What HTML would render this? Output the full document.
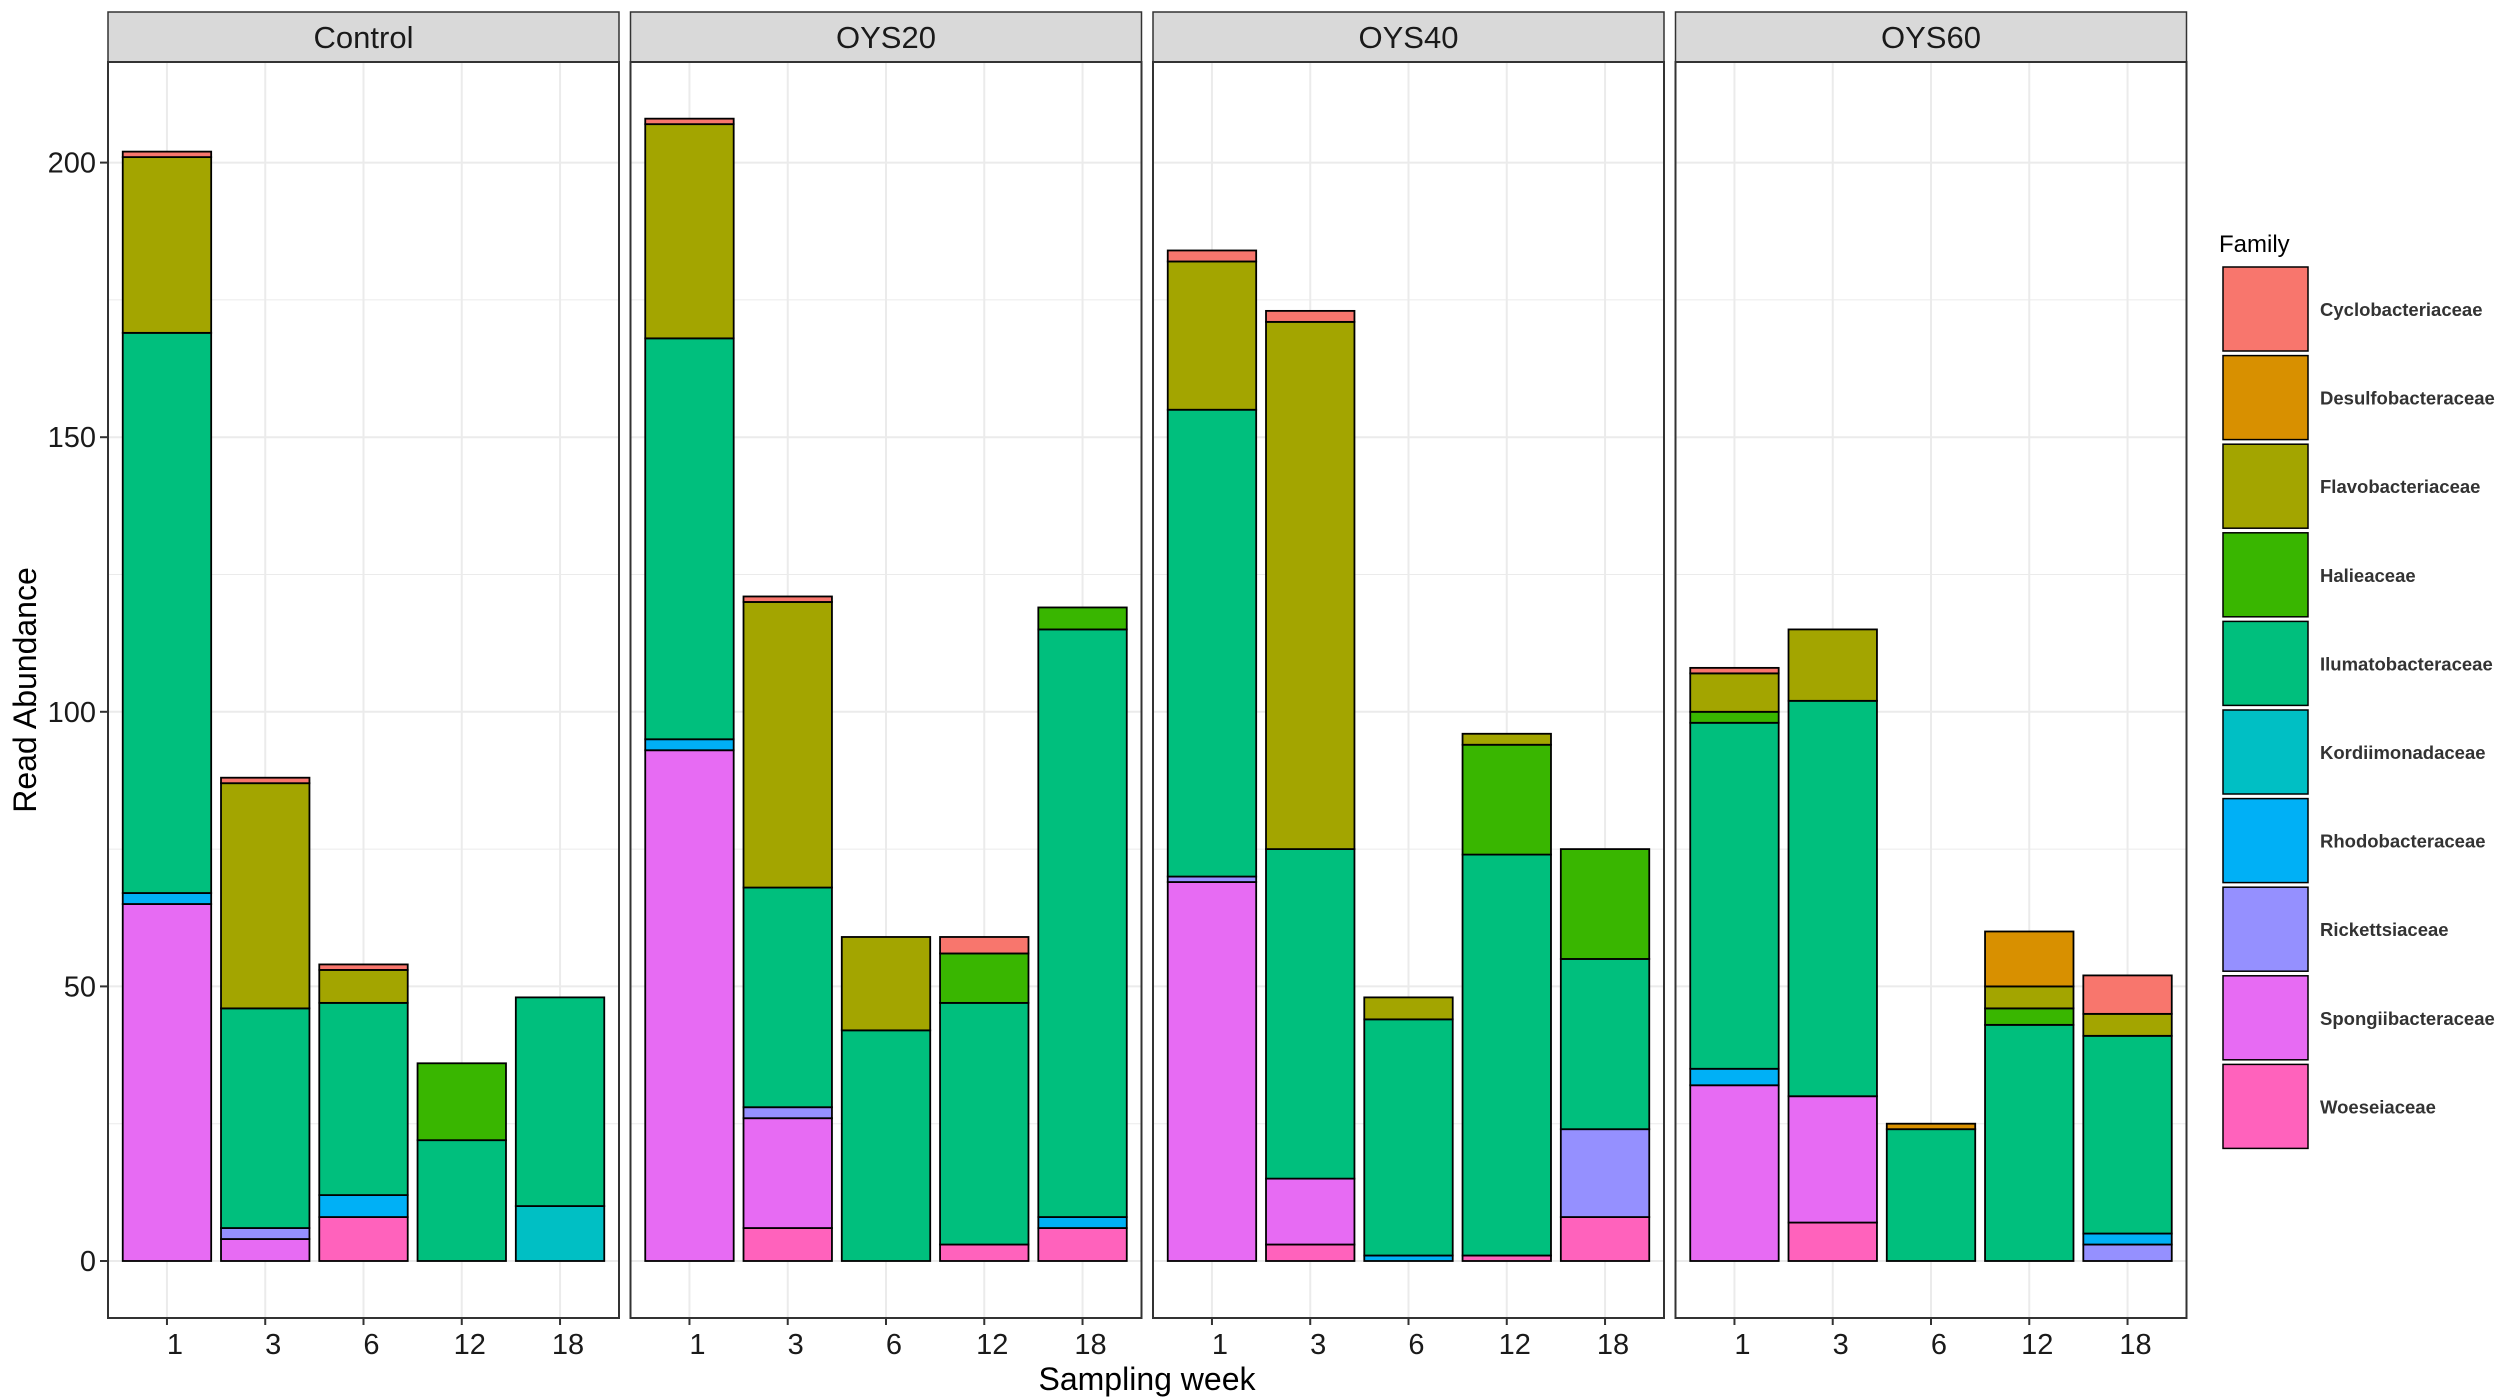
<!DOCTYPE html>
<html><head><meta charset="utf-8"><style>
html,body{margin:0;padding:0;background:#fff;}
svg{display:block;font-family:"Liberation Sans",Arial,sans-serif;}
</style></head><body>
<svg id="chart" width="2500" height="1400" viewBox="0 0 2500 1400"></svg>
<script>
const panels = ["Control","OYS20","OYS40","OYS60"];
const weeks = ["1","3","6","12","18"];
const families = ["Cyclobacteriaceae","Desulfobacteraceae","Flavobacteriaceae","Halieaceae","Ilumatobacteraceae","Kordiimonadaceae","Rhodobacteraceae","Rickettsiaceae","Spongiibacteraceae","Woeseiaceae"];
const colors = ["#F8766D","#D89000","#A3A500","#39B600","#00BF7D","#00BFC4","#00B0F6","#9590FF","#E76BF3","#FF62BC"];
const yTicks = [0,50,100,150,200];
// values per family, order: Control w1..w18, OYS20 w1..w18, OYS40 ..., OYS60 ...
const cyclo   = [1,1,1,0,0,  1,1,0,3,0,  2,2,0,0,0,  1,0,0,0,7];
const desulfo = [0,0,0,0,0,  0,0,0,0,0,  0,0,0,0,0,  0,0,1,10,0];
const flavo   = [32,41,6,0,0, 39,52,17,0,0, 27,96,4,2,0, 7,13,0,4,4];
const halie   = [0,0,0,14,0, 0,0,0,9,4,  0,0,0,20,20, 2,0,0,3,0];
const ilum    = [102,40,35,22,38, 73,40,42,44,107, 85,60,43,73,31, 63,72,24,43,36];
const kord    = [0,0,0,0,10, 0,0,0,0,0,  0,0,0,0,0,  0,0,0,0,0];
const rhodo   = [2,0,4,0,0,  2,0,0,0,2,  0,0,1,0,0,  3,0,0,0,2];
const ricket  = [0,2,0,0,0,  0,2,0,0,0,  1,0,0,0,16, 0,0,0,0,3];
const spong   = [65,4,0,0,0, 93,20,0,0,0, 69,12,0,0,0, 32,23,0,0,0];
const woese   = [0,0,8,0,0,  0,6,0,3,6,  0,3,0,1,8,  0,7,0,0,0];
const series = [cyclo,desulfo,flavo,halie,ilum,kord,rhodo,ricket,spong,woese];

const NS="http://www.w3.org/2000/svg";
const svg=document.getElementById('chart');
function el(tag,attrs,parent){const e=document.createElementNS(NS,tag);for(const k in attrs)e.setAttribute(k,attrs[k]);(parent||svg).appendChild(e);return e;}
const panelX0=108, panelW=511, panelStep=522.5, plotTop=62, plotBot=1318, stripTop=12;
const y0=1261, yPer=5.492;
function yScale(v){return y0-v*yPer;}
const unit=panelW/5.2;
function xScale(p,i){return panelX0+p*panelStep+(0.6+i)*unit;}

panels.forEach((pn,p)=>{
  const px=panelX0+p*panelStep;
  const g=el('g',{});
  
  
  const strip=el('rect',{x:px,y:stripTop,width:panelW,height:plotTop-stripTop,fill:'#d9d9d9',stroke:'#333',"stroke-width":1.5},g);
  
  
  const st=el('text',{x:px+panelW/2,y:plotTop-14,"text-anchor":"middle","font-size":31,fill:'#1a1a1a'},g);
  st.textContent=pn;
  
  
  for(let v=-0;v<=200;v+=25){
    const gl=el('line',{x1:px,x2:px+panelW,y1:yScale(v),y2:yScale(v),stroke:'#ebebeb',"stroke-width":v%50===0?2:1},g);
    
    
  }
  weeks.forEach((w,i)=>{
    const x=xScale(p,i);
    const gl=el('line',{x1:x,x2:x,y1:plotTop,y2:plotBot,stroke:'#ebebeb',"stroke-width":2},g);
    
    
  });
  weeks.forEach((w,i)=>{
    const idx=p*5+i;
    let cum=0;
    const bw=unit*0.9, bx=xScale(p,i)-bw/2;
    for(let f=families.length-1;f>=0;f--){
      const v=series[f][idx];
      if(!v) continue;
      const r=el('rect',{x:bx,y:yScale(cum+v),width:bw,height:v*yPer,fill:colors[f],stroke:'#000',"stroke-width":1.8},g);
      
      
      cum+=v;
    }
  });
  const border=el('rect',{x:px,y:plotTop,width:panelW,height:plotBot-plotTop,fill:'none',stroke:'#333',"stroke-width":2},g);
  
  
  weeks.forEach((w,i)=>{
    const x=xScale(p,i);
    el('line',{x1:x,x2:x,y1:plotBot,y2:plotBot+7,stroke:'#333',"stroke-width":2},g);
    const t=el('text',{x:x+8,y:plotBot+36,"text-anchor":"middle","font-size":29,fill:'#1a1a1a'},g);
    t.textContent=w;
    
    
  });
});
yTicks.forEach(v=>{
  el('line',{x1:100,x2:108,y1:yScale(v),y2:yScale(v),stroke:'#333',"stroke-width":2});
  const t=el('text',{x:96,y:yScale(v)+10,"text-anchor":"end","font-size":29,fill:'#1a1a1a'});
  t.textContent=v;
  
  
});
const yt=el('text',{x:0,y:0,transform:'translate(36,690) rotate(-90)',"text-anchor":"middle","font-size":32,fill:'#000'});
yt.textContent='Read Abundance';


const xt=el('text',{x:1147,y:1390,"text-anchor":"middle","font-size":32,fill:'#000'});
xt.textContent='Sampling week';


const lt=el('text',{x:2219,y:252,"font-size":24,fill:'#000'});
lt.textContent='Family';


families.forEach((f,k)=>{
  const y=266+k*88.6;
  const g=el('g',{});
  
  
  el('rect',{x:2223,y:y+1,width:85,height:84,fill:colors[k],stroke:'#000',"stroke-width":1.5},g);
  const t=el('text',{x:2320,y:y+50,"font-size":18.5,"font-weight":"bold",fill:'#333'},g);
  t.textContent=f;
});
</script>
</body></html>
